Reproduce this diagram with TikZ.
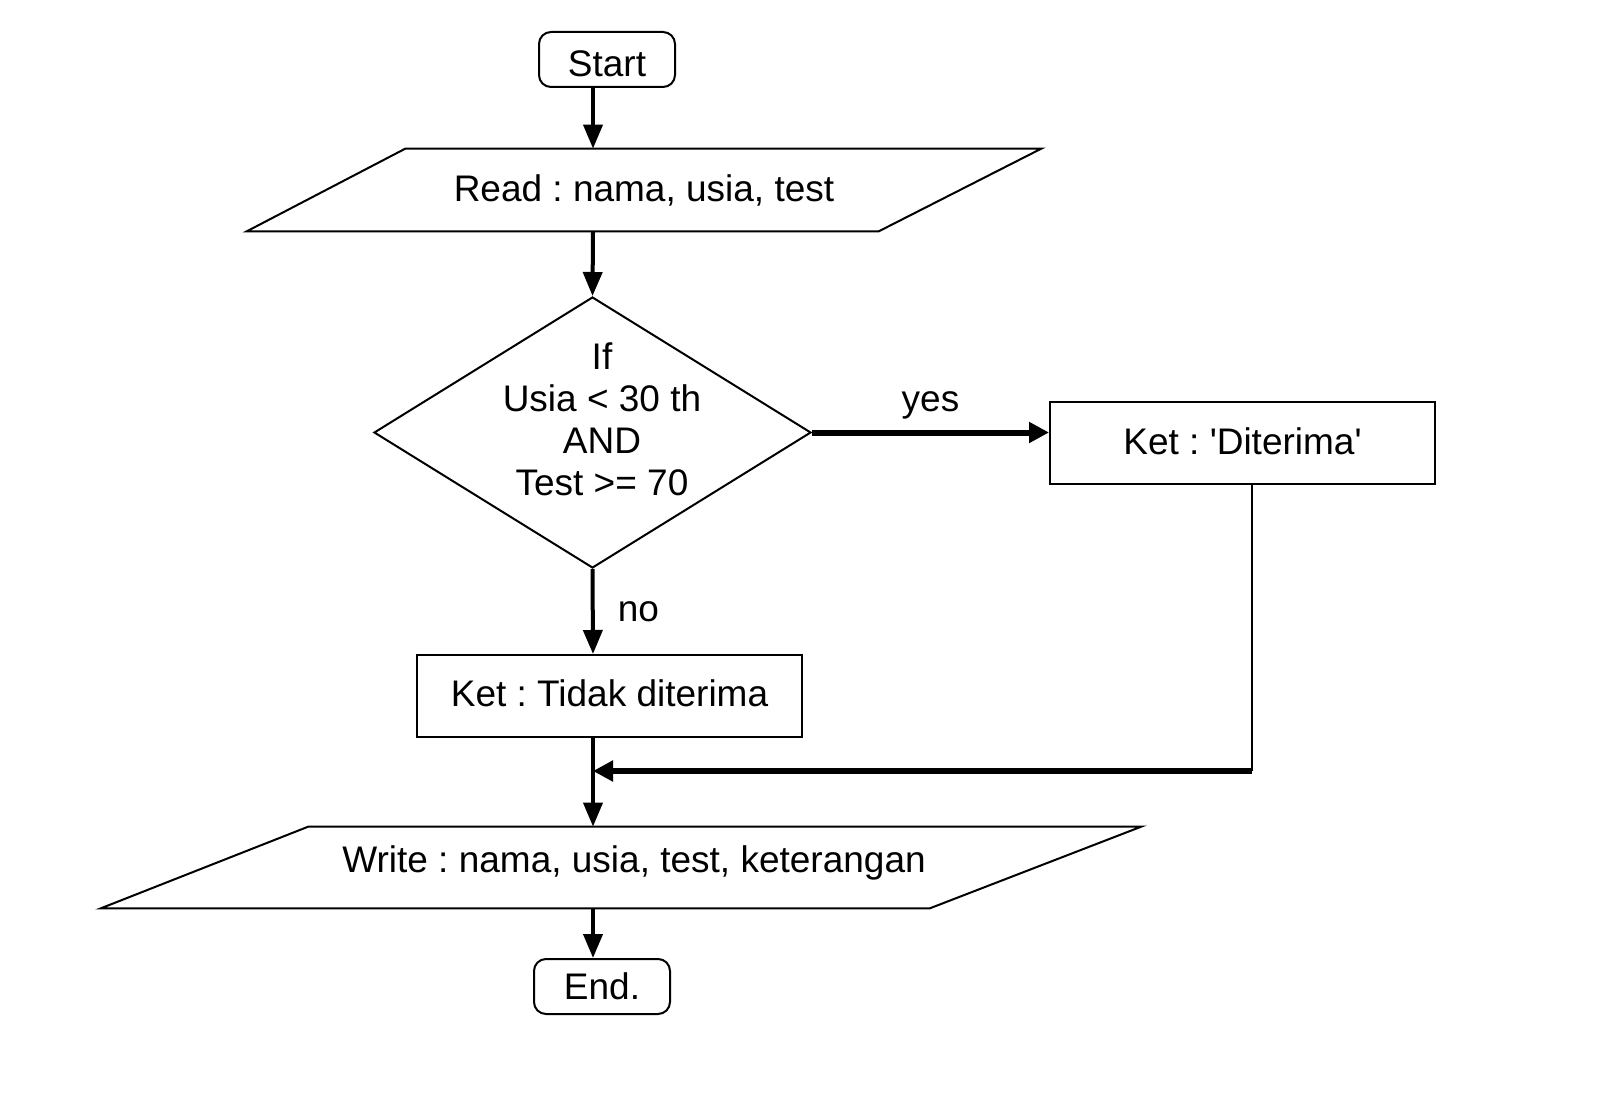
\documentclass[tikz,border=0pt]{standalone}
\usepackage{fontspec}
\setmainfont{Liberation Sans}
\usetikzlibrary{positioning}
\usetikzlibrary{shapes.geometric}
\usetikzlibrary{arrows.meta}
\usetikzlibrary{calc}
\tikzset{>={Triangle[length=12pt,width=9.5pt]}}
\tikzset{term/.style={draw,line width=1pt,rounded corners=6pt,minimum width=68pt,minimum height=27.5pt,inner sep=0pt}}
\tikzset{io/.style={inner sep=0pt}}
\tikzset{proc/.style={draw,line width=1pt,minimum width=192.5pt,minimum height=41pt,inner sep=0pt}}
\tikzset{cond/.style={draw,diamond,line width=1pt,minimum width=218.5pt,minimum height=135.5pt,inner sep=0pt}}
\tikzset{ed/.style={inner sep=0pt}}
\tikzset{flow/.style={->,line width=2pt}}
\tikzset{bold/.style={-{Triangle[length=10pt,width=10pt]},line width=3pt}}
\begin{document}
\frenchspacing
\begin{tikzpicture}[x=0.5pt,y=-0.5pt,font=\fontsize{18.5}{21}\selectfont\frenchspacing]
\fill[white] (0,0) rectangle (1600,1102);
\coordinate (spine) at (593,0);

\node (start) [term] at (607,59.5) {\raisebox{-2pt}[\height][\depth]{Start}};
\node (read) [io, minimum width=397pt, minimum height=41pt] at (644,190) {\raisebox{2pt}{Read : nama, usia, test}};
\draw[line width=1pt] (read.south west) -- ++(632,0) -- (read.north east) -- ++(-636,0) -- cycle;
\node (cond) [cond] at (592.5,432.5) {};
\node (condtxt) [align=center, inner sep=0pt] at (602,419) {If\\Usia < 30 th\\AND\\Test >= 70};
\node (diterima) [proc] at (1242.5,443) {\raisebox{2pt}{Ket : \textquotesingle Diterima\textquotesingle}};
\node (tidak) [proc] at (609.5,696) {\raisebox{3pt}{Ket : Tidak diterima}};
\node (write) [io, minimum width=520pt, minimum height=40.5pt] at (621,867.5) {\hspace*{13pt}\raisebox{8pt}{Write : nama, usia, test, keterangan}};
\draw[line width=1pt] (write.south west) -- ++(829,0) -- (write.north east) -- ++(-833,0) -- cycle;
\node (end) [term] at (602,986.5) {End.};
\coordinate (corner) at (1252,771);
\coordinate (merge) at (593,771);

\draw[flow] (start.south -| spine) -- (read.north -| spine);
\draw[flow] (read.south -| spine) -- (cond.north);
\draw[flow] (cond.south) -- node[ed, right=11.5pt] (no) {no} (tidak.north -| spine);
\draw[bold] (cond.east) -- node[ed, above=5pt] (yes) {yes} (cond.east -| diterima.west);
\draw[line width=1pt] (diterima.south -| corner) -- (corner);
\draw[bold] (corner) -- (merge);
\draw[flow] (tidak.south -| spine) -- (write.north -| spine);
\draw[flow] (write.south -| spine) -- (end.north -| spine);
\end{tikzpicture}
\end{document}
